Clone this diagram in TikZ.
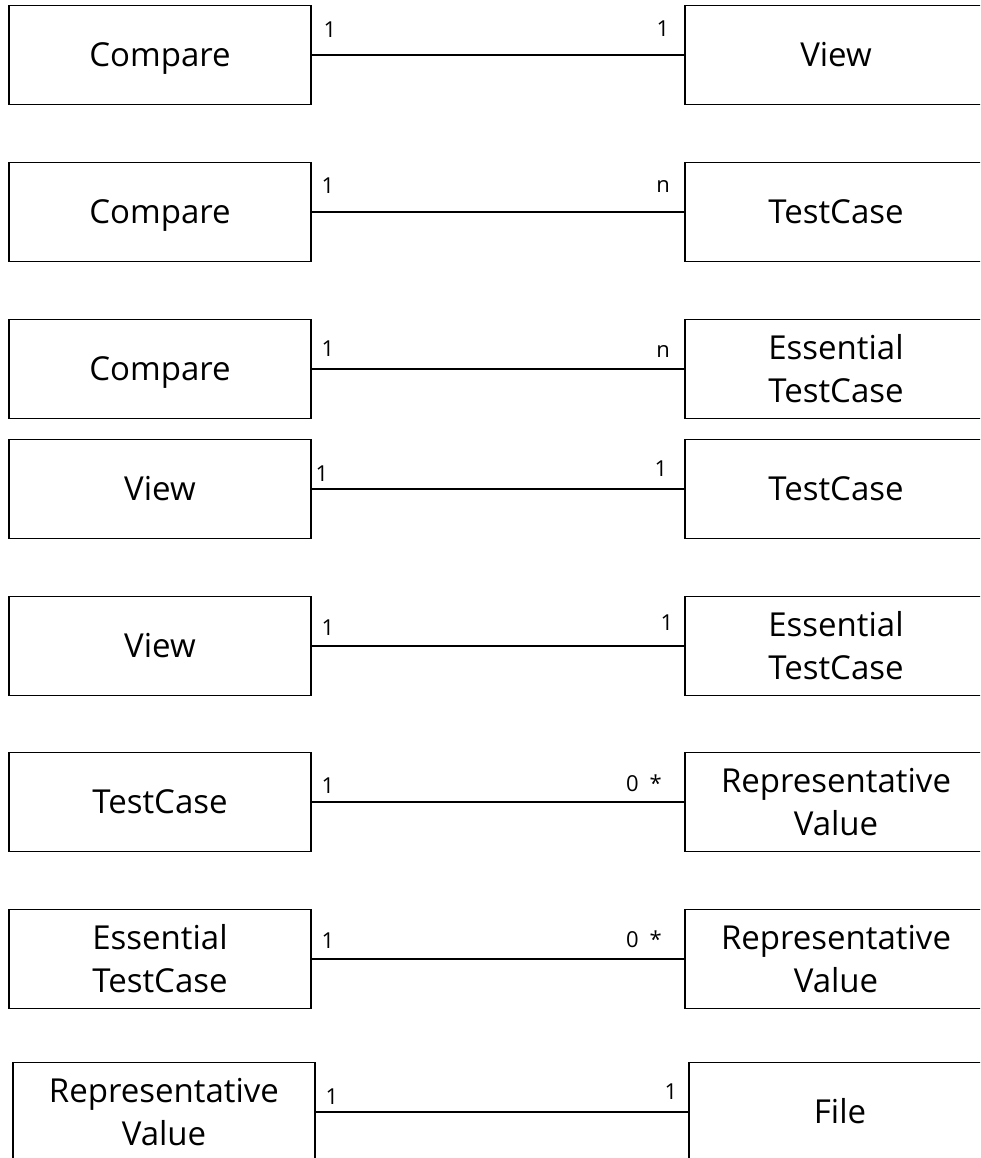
\documentclass[tikz,border=0pt]{standalone}
\usepackage{fontspec}
\setmainfont{Open Sans}
\begin{document}
\begin{tikzpicture}[x=1pt,y=-1pt,
  box/.style={draw=black,line width=1.6pt,minimum width=302pt,minimum height=99pt,inner sep=0pt,align=center,font=\fontsize{33}{43}\selectfont},
  one/.style={box,text height=23.5pt,text depth=0pt},
  conn/.style={line width=1.6pt,black},
  mult/.style={inner sep=0pt,font=\fontsize{22}{26}\selectfont}]
\useasboundingbox (0,0) rectangle (980,1158);
\clip (0,0) rectangle (980,1158);
% row 1
\node[one] (l1) at (160,55) {Compare};
\node[one] (r1) at (836,55) {View};
\draw[conn] (l1.east) -- (r1.west);
\node[mult] (a1) at (330,30) {1};
\node[mult] (b1) at (663,29) {1};
% row 2
\node[one] (l2) at (160,212) {Compare};
\node[one] (r2) at (836,212) {TestCase};
\draw[conn] (l2.east) -- (r2.west);
\node[mult] (a2) at (328,186) {1};
\node[mult] (b2) at (663,187) {n};
% row 3
\node[one] (l3) at (160,369) {Compare};
\node[box] (r3) at (836,369) {Essential\\TestCase};
\draw[conn] (l3.east) -- (r3.west);
\node[mult] (a3) at (328,349) {1};
\node[mult] (b3) at (663,352) {n};
% row 4
\node[one] (l4) at (160,489) {View};
\node[one] (r4) at (836,489) {TestCase};
\draw[conn] (l4.east) -- (r4.west);
\node[mult] (a4) at (322,474) {1};
\node[mult] (b4) at (661,469) {1};
% row 5
\node[one] (l5) at (160,646) {View};
\node[box] (r5) at (836,646) {Essential\\TestCase};
\draw[conn] (l5.east) -- (r5.west);
\node[mult] (a5) at (328,628) {1};
\node[mult] (b5) at (667,623) {1};
% row 6
\node[one] (l6) at (160,802) {TestCase};
\node[box] (r6) at (836,802) {Representative\\Value};
\draw[conn] (l6.east) -- (r6.west);
\node[mult] (a6) at (328,786) {1};
\node[mult] (b6) at (644,783) {0\hspace{0.5em}*};
% row 7
\node[box] (l7) at (160,959) {Essential\\TestCase};
\node[box] (r7) at (836,959) {Representative\\Value};
\draw[conn] (l7.east) -- (r7.west);
\node[mult] (a7) at (328,941) {1};
\node[mult] (b7) at (644,939) {0\hspace{0.5em}*};
% row 8
\node[box] (l8) at (164,1112) {Representative\\Value};
\node[one] (r8) at (840,1112) {File};
\draw[conn] (l8.east) -- (r8.west);
\node[mult] (a8) at (332,1097) {1};
\node[mult] (b8) at (671,1092) {1};
\end{tikzpicture}
\end{document}
